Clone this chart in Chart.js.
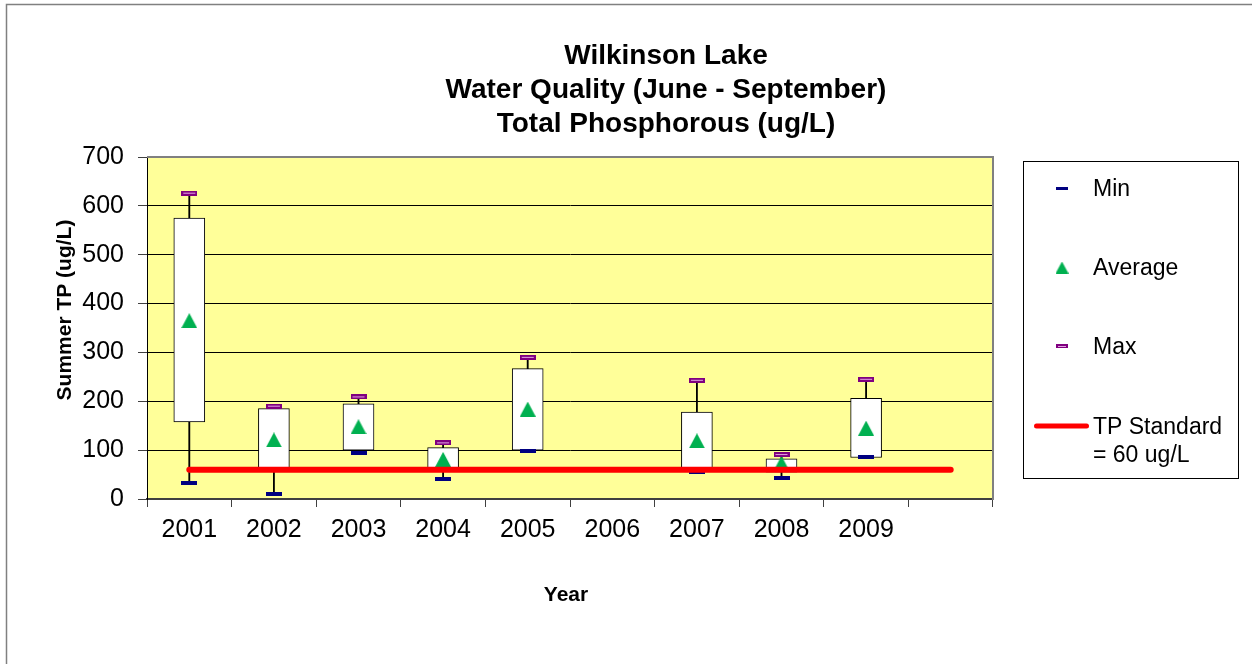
<!DOCTYPE html>
<html>
<head>
<meta charset="utf-8">
<script src="https://cdn.jsdelivr.net/npm/chart.js@4.4.0/dist/chart.umd.min.js"></script>
<style>
html,body{margin:0;padding:0;background:#ffffff;}
#wrap{width:1252px;height:664px;position:relative;overflow:hidden;}
</style>
</head>
<body>
<div id="wrap"><canvas id="c" width="1252" height="664"></canvas></div>
<script>
// ---- data ----
const years      = ['2001','2002','2003','2004','2005','2006','2007','2008','2009',''];
const minVals    = [33, 11, 95, 41, 99, null, 55, 44, 85, null];
const q1Vals     = [158, 60, 100, 60, 100, null, 58, 55, 85, null];
const q3Vals     = [575, 185, 195, 105, 267, null, 178, 82, 206, null];
const maxVals    = [626, 190, 209, 115, 290, null, 243, 91, 245, null];
const avgVals    = [365, 121, 148, 81, 184, null, 119, 73, 145, null];
const tpStandard = [60, 60, 60, 60, 60, 60, 60, 60, 60, 60];
const titleLines = ['Wilkinson Lake', 'Water Quality (June - September)', 'Total Phosphorous (ug/L)'];
const yAxisTitle = 'Summer TP (ug/L)';
const xAxisTitle = 'Year';
const legendLabels = ['Min', 'Average', 'Max', 'TP Standard', '= 60 ug/L'];

const FAM = '"Liberation Sans", Arial, Helvetica, sans-serif';

// ---- marker images ----
function makeMin(s) {
  const c = document.createElement('canvas');
  c.width = Math.round(16 * s); c.height = Math.max(3, Math.round(4 * s));
  const g = c.getContext('2d');
  g.fillStyle = '#000080';
  g.fillRect(0, 0, c.width, c.height);
  return c;
}
function makeMax(s) {
  const c = document.createElement('canvas');
  c.width = Math.round(16 * s); c.height = Math.max(4, Math.round(5 * s));
  const g = c.getContext('2d');
  g.fillStyle = '#800080';
  g.fillRect(0, 0, c.width, c.height);
  g.fillStyle = '#E2A6E2';
  g.fillRect(Math.round(2 * s), Math.floor(c.height / 2), c.width - 2 * Math.round(2 * s), 1);
  return c;
}
function makeTri(s) {
  const c = document.createElement('canvas');
  c.width = Math.round(16 * s); c.height = Math.round(15 * s);
  const g = c.getContext('2d');
  g.fillStyle = '#00B050';
  g.beginPath();
  g.moveTo(c.width / 2, 0);
  g.lineTo(c.width, c.height);
  g.lineTo(0, c.height);
  g.closePath();
  g.fill();
  return c;
}
const minImg = makeMin(1), maxImg = makeMax(1), triImg = makeTri(1);
const minImgL = makeMin(0.78), maxImgL = makeMax(0.78), triImgL = makeTri(0.8);

const boxes = years.map((_, i) => q1Vals[i] == null ? null : [q1Vals[i], q3Vals[i]]);
const whiskers = years.map((_, i) => minVals[i] == null ? null : [minVals[i], maxVals[i]]);

const bgPlugin = {
  id: 'bg',
  beforeDraw(chart) {
    const { ctx, chartArea: a } = chart;
    ctx.save();
    ctx.fillStyle = '#ffffff';
    ctx.fillRect(0, 0, chart.width, chart.height);
    ctx.strokeStyle = '#808080';
    ctx.lineWidth = 1.5;
    ctx.strokeRect(6.5, 4.5, 1400, 800);
    ctx.fillStyle = '#FFFF99';
    ctx.fillRect(a.left, a.top, a.right - a.left, a.bottom - a.top);
    ctx.restore();
  }
};

const decorPlugin = {
  id: 'decor',
  afterDraw(chart) {
    const { ctx, chartArea: a } = chart;
    ctx.save();
    // plot frame top/right
    ctx.strokeStyle = '#808080';
    ctx.lineWidth = 2;
    ctx.beginPath();
    ctx.moveTo(a.left, a.top);
    ctx.lineTo(a.right, a.top);
    ctx.lineTo(a.right, a.bottom + 1);
    ctx.stroke();

    // titles
    ctx.fillStyle = '#000';
    ctx.textAlign = 'center';
    ctx.textBaseline = 'alphabetic';
    ctx.font = 'bold 28px ' + FAM;
    titleLines.forEach((t, i) => ctx.fillText(t, 666, 64 + i * 34));

    // axis titles
    ctx.font = 'bold 21px ' + FAM;
    ctx.fillText(xAxisTitle, 566, 601);
    ctx.save();
    ctx.translate(71, 310);
    ctx.rotate(-Math.PI / 2);
    ctx.fillText(yAxisTitle, 0, 0);
    ctx.restore();

    // legend
    ctx.strokeStyle = '#000';
    ctx.lineWidth = 1;
    ctx.strokeRect(1023.5, 161.5, 215, 317);
    const mx = 1062;
    ctx.drawImage(minImgL, mx - minImgL.width / 2, 188 - minImgL.height / 2);
    ctx.drawImage(triImgL, mx - triImgL.width / 2, 267.5 - triImgL.height / 2);
    ctx.drawImage(maxImgL, mx - maxImgL.width / 2, 346 - maxImgL.height / 2);
    ctx.strokeStyle = '#FF0000';
    ctx.lineWidth = 5;
    ctx.lineCap = 'round';
    ctx.beginPath();
    ctx.moveTo(1036.5, 426);
    ctx.lineTo(1086.5, 426);
    ctx.stroke();
    ctx.fillStyle = '#000';
    ctx.textAlign = 'left';
    ctx.font = '23px ' + FAM;
    ctx.fillText(legendLabels[0], 1093, 196);
    ctx.fillText(legendLabels[1], 1093, 275);
    ctx.fillText(legendLabels[2], 1093, 354);
    ctx.fillText(legendLabels[3], 1093, 434);
    ctx.fillText(legendLabels[4], 1093, 461.5);
    ctx.restore();
  }
};

new Chart(document.getElementById('c'), {
  type: 'bar',
  data: {
    labels: years,
    datasets: [
      { type: 'line', label: 'TP Standard = 60 ug/L', data: tpStandard, borderColor: '#FF0000', backgroundColor: '#FF0000',
        borderWidth: 6, borderCapStyle: 'round', pointRadius: 0, pointHoverRadius: 0, order: 0, clip: false },
      { type: 'line', label: 'Min', data: minVals, showLine: false, pointStyle: minImg, pointRadius: 8, order: 1 },
      { type: 'line', label: 'Max', data: maxVals, showLine: false, pointStyle: maxImg, pointRadius: 8, order: 1 },
      { type: 'line', label: 'Average', data: avgVals, showLine: false, pointStyle: triImg, pointRadius: 8, order: 1 },
      { type: 'bar', label: 'Box', data: boxes, backgroundColor: '#ffffff', borderColor: '#000000', borderWidth: 1,
        borderSkipped: false, barThickness: 31, grouped: false, order: 2 },
      { type: 'bar', label: 'Whisker', data: whiskers, backgroundColor: '#000000', barThickness: 1.2, grouped: false, order: 3 }
    ]
  },
  options: {
    responsive: false,
    animation: false,
    devicePixelRatio: 1,
    events: [],
    layout: { padding: { left: 0, top: 157, right: 259, bottom: 105 } },
    plugins: { legend: { display: false }, title: { display: false }, tooltip: { enabled: false } },
    scales: {
      x: {
        offset: true,
        grid: { display: true, drawOnChartArea: false, drawTicks: true, tickLength: 8, offset: true, color: '#404040', lineWidth: 1 },
        border: { display: true, color: '#404040', width: 2 },
        ticks: { font: { family: FAM, size: 25 }, color: '#000', padding: 8, maxRotation: 0, autoSkip: false },
        afterFit(s) { s.height = 60; }
      },
      y: {
        min: 0, max: 700,
        ticks: { stepSize: 100, font: { family: FAM, size: 25 }, color: '#000', padding: 14 },
        grid: { color: '#000000', lineWidth: 1, tickLength: 9, tickColor: '#404040' },
        border: { display: true, color: '#000000', width: 1 },
        afterFit(s) { s.width = 147; }
      }
    }
  },
  plugins: [bgPlugin, decorPlugin]
});
</script>
</body>
</html>
